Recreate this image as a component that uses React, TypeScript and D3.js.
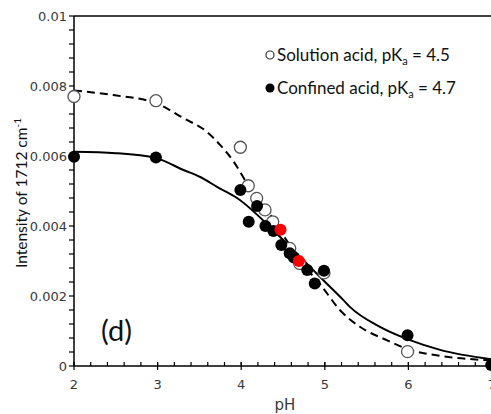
import React from "react";
import * as d3 from "d3";

// ---- data ----
const solutionPH = [2.0, 2.98, 3.99, 4.085, 4.185, 4.285, 4.377, 4.58, 4.70, 4.99, 5.99];
const solutionVal = [0.0077, 0.00758, 0.00625, 0.00515, 0.00479, 0.00446, 0.00412, 0.00336, 0.00293, 0.00266, 0.00041];

const confinedPH = [2.0, 2.98, 3.99, 4.09, 4.19, 4.29, 4.385, 4.48, 4.58, 4.63, 4.79, 4.88, 4.99, 5.99, 6.99];
const confinedVal = [0.00598, 0.00596, 0.00503, 0.00412, 0.00457, 0.004, 0.00386, 0.00346, 0.00322, 0.0031, 0.00274, 0.00236, 0.00272, 0.00088, 0.00003];

const redPH = [4.47, 4.69];
const redVal = [0.00389, 0.003];

// fitted curves
const solFitPH = [2.0, 2.47, 2.99, 3.31, 3.59, 3.75, 3.91, 4.07, 4.31, 4.54, 4.78, 4.94, 5.18, 5.42, 5.74, 6.02, 6.38, 7.0];
const solFitVal = [0.00787, 0.00774, 0.0075, 0.00708, 0.00669, 0.00631, 0.00584, 0.00522, 0.00446, 0.0036, 0.00279, 0.00235, 0.0016, 0.00112, 0.00074, 0.00046, 0.00029, 0.00016];

const conFitPH = [2.0, 2.5, 2.98, 3.31, 3.51, 3.71, 3.95, 4.46, 4.82, 4.94, 5.22, 5.3, 5.66, 6.02, 6.38, 7.0];
const conFitVal = [0.00612, 0.00608, 0.00594, 0.0056, 0.0054, 0.00512, 0.0048, 0.0037, 0.00284, 0.00255, 0.00189, 0.00169, 0.00112, 0.00074, 0.00046, 0.00019];

const xTicks = [2, 3, 4, 5, 6, 7];
const yTicks = [0, 0.002, 0.004, 0.006, 0.008, 0.01];
const yTickLabels = ["0", "0.002", "0.004", "0.006", "0.008", "0.01"];

const W = 491;
const H = 414;

export default function App() {
  const x = d3.scaleLinear().domain([2, 7]).range([74, 492]);
  const y = d3.scaleLinear().domain([0, 0.01]).range([366, 16]);

  const line = d3
    .line<[number, number]>()
    .x((d) => x(d[0]))
    .y((d) => y(d[1]))
    .curve(d3.curveMonotoneX);

  const solPath = line(solFitPH.map((p, i) => [p, solFitVal[i]]) as [number, number][]) || "";
  const conPath = line(conFitPH.map((p, i) => [p, conFitVal[i]]) as [number, number][]) || "";

  const yMinor = d3.range(0, 0.01 + 1e-9, 0.0004);
  const xMinor = d3.range(2, 7.0001, 0.2);

  const tickFont = "'DejaVu Sans', Verdana, sans-serif";
  const textFont = "Lato, 'Open Sans', sans-serif";
  const tickColor = "#3a3a3a";

  return (
    <svg
      width={W}
      height={H}
      viewBox={`0 0 ${W} ${H}`}
      style={{ position: "absolute", left: 0, top: 0, background: "#fff" }}
    >
      <rect x={0} y={0} width={W} height={H} fill="#fff" />

      {/* curves */}
      <path d={solPath} fill="none" stroke="#000" strokeWidth={2} strokeDasharray="8,5" />
      <path d={conPath} fill="none" stroke="#000" strokeWidth={2} />

      {/* axes */}
      <line x1={74} x2={74} y1={y(0)} y2={y(0.01)} stroke="#000" strokeWidth={1.5} />
      <line x1={74} x2={W} y1={y(0)} y2={y(0)} stroke="#000" strokeWidth={1.5} />
      <line x1={74} x2={W} y1={y(0.01)} y2={y(0.01)} stroke="#000" strokeWidth={1.5} />

      {yMinor.map((v, i) => (
        <line key={"ym" + i} x1={69} x2={74} y1={y(v)} y2={y(v)} stroke="#000" strokeWidth={1.2} />
      ))}
      {xMinor.map((v, i) => (
        <line key={"xm" + i} x1={x(v)} x2={x(v)} y1={y(0)} y2={y(0) - 4} stroke="#000" strokeWidth={1.2} />
      ))}
      {xTicks.map((v, i) => (
        <line key={"xM" + i} x1={x(v)} x2={x(v)} y1={y(0) - 4} y2={y(0) + 4} stroke="#000" strokeWidth={1.2} />
      ))}

      {yTicks.map((v, i) => (
        <text
          key={"yl" + i}
          x={67}
          y={y(v) + 4.5}
          textAnchor="end"
          fontFamily={tickFont}
          fontSize={13}
          fill={tickColor}
        >
          {yTickLabels[i]}
        </text>
      ))}
      {xTicks.map((v, i) => (
        <text
          key={"xl" + i}
          x={x(v)}
          y={389}
          textAnchor="middle"
          fontFamily={tickFont}
          fontSize={13}
          fill={tickColor}
        >
          {v}
        </text>
      ))}

      {/* axis titles */}
      <text x={285} y={410} textAnchor="middle" fontFamily={tickFont} fontSize={15} fill={tickColor}>
        pH
      </text>
      <text
        transform="translate(27,193) rotate(-90)"
        textAnchor="middle"
        fontFamily={textFont}
        fontSize={15.5}
        fill="#111"
      >
        Intensity of 1712 cm
        <tspan dy={-6} fontSize={10}>-1</tspan>
      </text>

      {/* panel label */}
      <text x={101} y={341} fontFamily={textFont} fontSize={29} fill="#111">
        (d)
      </text>

      {/* points */}
      {solutionPH.map((p, i) => (
        <circle key={"s" + i} cx={x(p)} cy={y(solutionVal[i])} r={6} fill="#fff" stroke="#555" strokeWidth={1.3} />
      ))}
      {confinedPH.map((p, i) => (
        <circle key={"c" + i} cx={x(p)} cy={y(confinedVal[i])} r={6} fill="#000" />
      ))}
      {redPH.map((p, i) => (
        <circle key={"r" + i} cx={x(p)} cy={y(redVal[i])} r={6} fill="#ff0000" />
      ))}

      {/* legend */}
      <circle cx={270} cy={55} r={4} fill="#fff" stroke="#333" strokeWidth={1.2} />
      <text x={277} y={61} fontFamily={textFont} fontSize={17} fill="#111">
        Solution acid, pK
        <tspan dy={4} fontSize={11}>a</tspan>
        <tspan dy={-4}> = 4.5</tspan>
      </text>
      <circle cx={270} cy={88} r={4.5} fill="#000" />
      <text x={277} y={94} fontFamily={textFont} fontSize={17} fill="#111">
        Confined acid, pK
        <tspan dy={4} fontSize={11}>a</tspan>
        <tspan dy={-4}> = 4.7</tspan>
      </text>
    </svg>
  );
}
